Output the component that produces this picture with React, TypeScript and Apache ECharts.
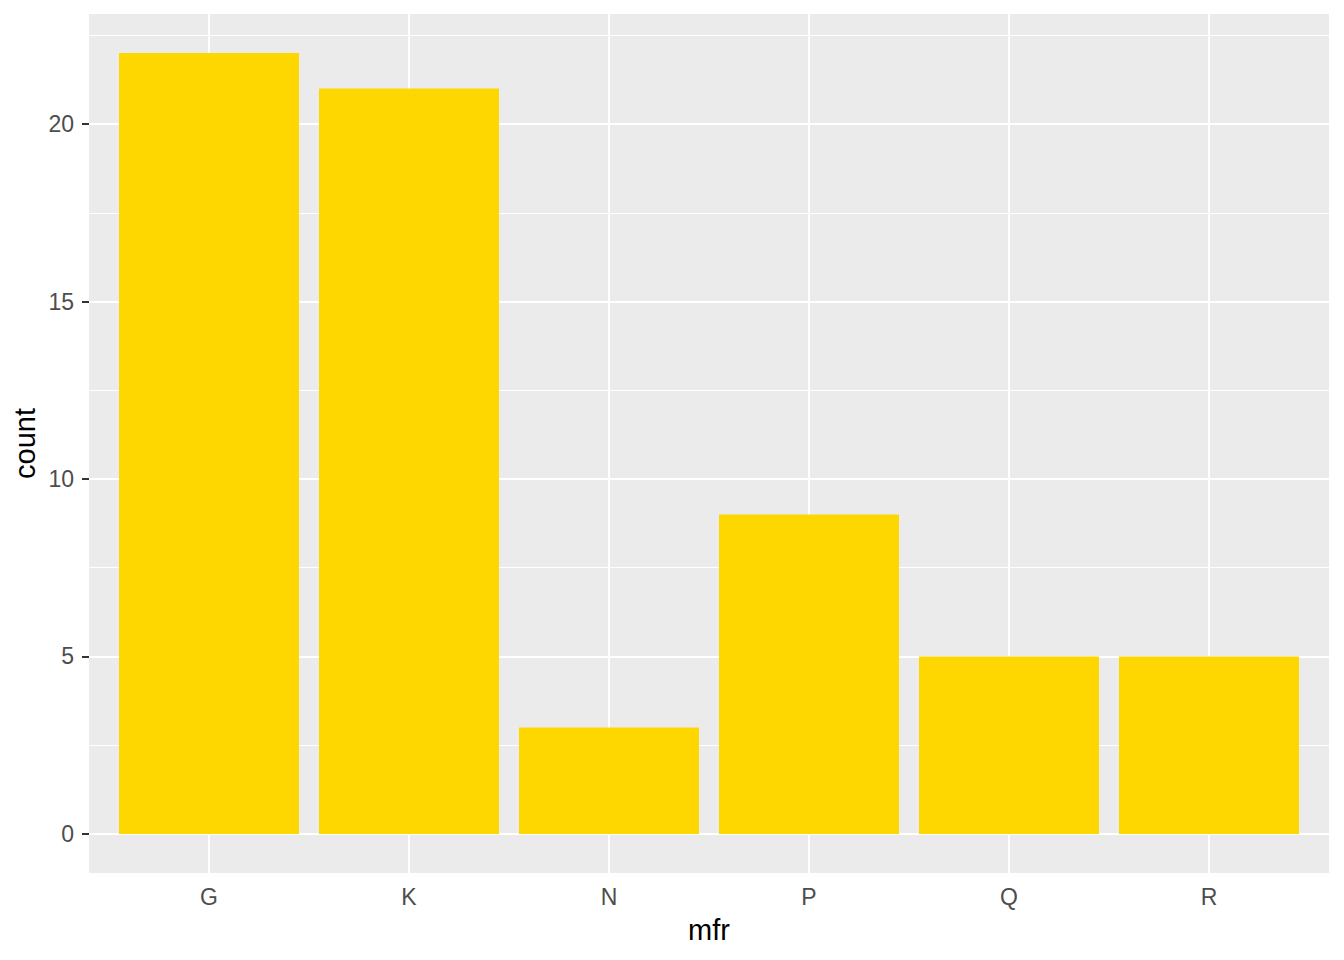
import React, { useEffect, useRef } from "react";
import * as echarts from "echarts";

const categories = ["G", "K", "N", "P", "Q", "R"];
const counts = [22, 21, 3, 9, 5, 5];
const yTicks = [0, 5, 10, 15, 20];
const yMinor = [2.5, 7.5, 12.5, 17.5, 22.5];
const xPositions = categories.map((_, i) => i + 1);

const FONT = "'Liberation Sans', Arial, sans-serif";

export default function App() {
  const ref = useRef<HTMLDivElement>(null);
  useEffect(() => {
    if (!ref.current) return;
    const chart = echarts.init(ref.current, null, { renderer: "svg" });
    const gridLeft = 89;
    const gridRight = 15;
    const gridTop = 14;
    const gridBottom = 87;
    const panelMidX = gridLeft + (1344 - gridLeft - gridRight) / 2;
    const panelMidY = gridTop + (960 - gridTop - gridBottom) / 2;
    const majorStyle = { color: "#FFFFFF", width: 2, type: "solid" as const };
    const minorStyle = { color: "#FFFFFF", width: 1, type: "solid" as const };
    chart.setOption({
      animation: false,
      backgroundColor: "#FFFFFF",
      grid: {
        left: gridLeft,
        right: gridRight,
        top: gridTop,
        bottom: gridBottom,
        show: true,
        backgroundColor: "#EBEBEB",
        borderWidth: 0,
      },
      xAxis: {
        type: "value",
        min: 0.4,
        max: 6.6,
        axisLine: { show: false },
        splitLine: { show: false },
        axisTick: {
          show: true,
          customValues: xPositions,
          length: 7,
          lineStyle: { color: "#333333", width: 2 },
        },
        axisLabel: {
          customValues: xPositions,
          formatter: (v: number) => categories[Math.round(v) - 1] ?? "",
          color: "#4D4D4D",
          fontSize: 23,
          fontFamily: FONT,
          margin: 12,
        },
      },
      yAxis: {
        type: "value",
        min: -1.1,
        max: 23.1,
        axisLine: { show: false },
        splitLine: { show: false },
        axisTick: {
          show: true,
          customValues: yTicks,
          length: 7,
          lineStyle: { color: "#333333", width: 2 },
        },
        axisLabel: {
          customValues: yTicks,
          color: "#4D4D4D",
          fontSize: 23,
          fontFamily: FONT,
          margin: 15,
        },
      },
      series: [
        {
          type: "bar",
          z: 2,
          barWidth: 180,
          itemStyle: { color: "#FFD700" },
          data: counts.map((c, i) => [xPositions[i], c]),
          markLine: {
            z: 1,
            silent: true,
            symbol: ["none", "none"],
            label: { show: false },
            emphasis: { disabled: true },
            data: [
              ...yMinor.map((v) => ({ yAxis: v, lineStyle: minorStyle })),
              ...yTicks.map((v) => ({ yAxis: v, lineStyle: majorStyle })),
              ...xPositions.map((v) => ({ xAxis: v, lineStyle: majorStyle })),
            ],
          },
        },
      ],
      graphic: [
        {
          type: "text",
          x: panelMidX,
          y: 930,
          style: {
            text: "mfr",
            fill: "#000000",
            fontSize: 29,
            fontFamily: FONT,
            align: "center",
            verticalAlign: "middle",
          },
        },
        {
          type: "text",
          x: 25,
          y: panelMidY,
          rotation: Math.PI / 2,
          style: {
            text: "count",
            fill: "#000000",
            fontSize: 29,
            fontFamily: FONT,
            align: "center",
            verticalAlign: "middle",
          },
        },
      ],
    });
    return () => chart.dispose();
  }, []);
  return (
    <div
      ref={ref}
      style={{ position: "absolute", left: 0, top: 0, width: 1344, height: 960 }}
    />
  );
}
